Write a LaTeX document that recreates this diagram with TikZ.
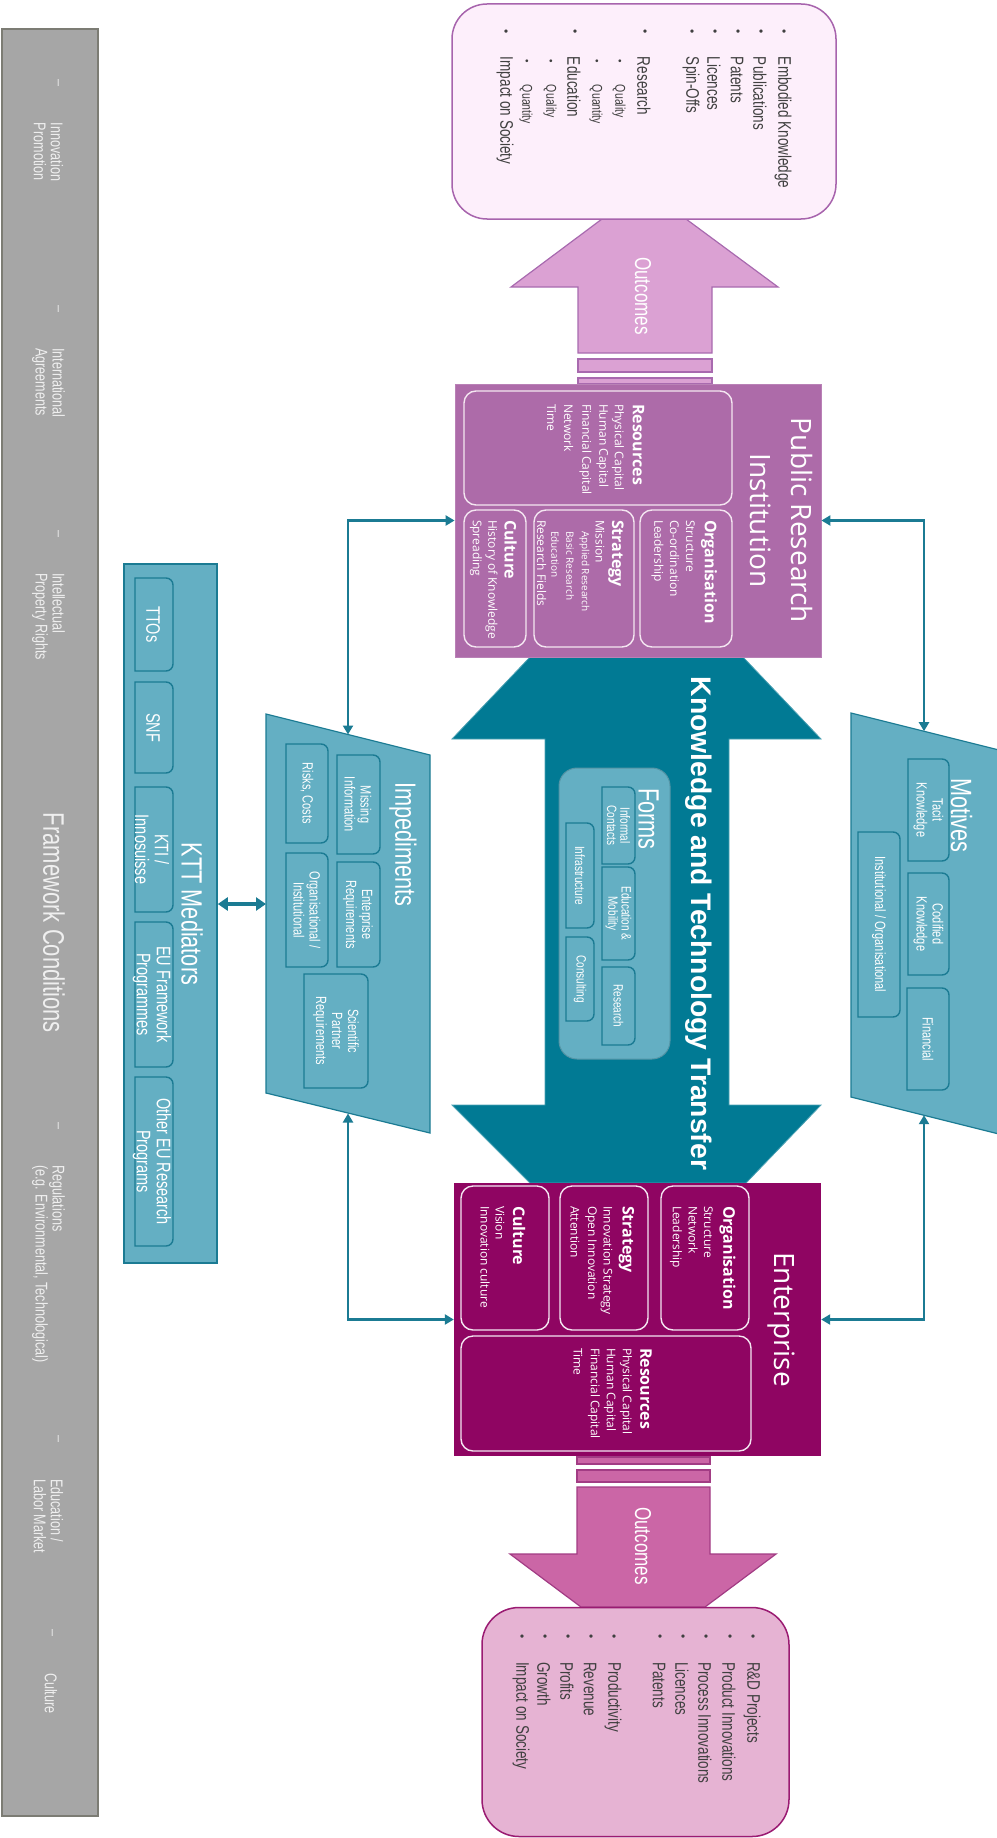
\documentclass[tikz,border=0pt]{standalone}
\usepackage{fontspec}
\setmainfont{Liberation Sans}
\newfontfamily\osans{Open Sans}
\usetikzlibrary{arrows.meta}
\definecolor{fcgray}{HTML}{A6A6A6}
\definecolor{fcline}{HTML}{7C7C74}
\definecolor{fctext}{HTML}{EFEFEF}
\definecolor{tpanel}{HTML}{64AFC3}
\definecolor{tline}{HTML}{1B7B93}
\definecolor{tarrow}{HTML}{017A94}
\definecolor{prifill}{HTML}{AD6BA9}
\definecolor{entfill}{HTML}{8F0562}
\definecolor{otfill}{HTML}{FDEFFB}
\definecolor{otline}{HTML}{A764AD}
\definecolor{atfill}{HTML}{DBA1D3}
\definecolor{atline}{HTML}{A86AAF}
\definecolor{abfill}{HTML}{CB66A6}
\definecolor{abline}{HTML}{A23C84}
\definecolor{obfill}{HTML}{E6B3D3}
\definecolor{obline}{HTML}{9A1B72}
\definecolor{listtxt}{HTML}{404040}
\definecolor{subline}{HTML}{F4E6F1}
\newcommand\rrbox[4]{\draw[subbox] (#1,#2) -- ({#3-7},#2) arc[start angle=-90,end angle=0,radius=7] -- (#3,{#4-7}) arc[start angle=0,end angle=90,radius=7] -- (#1,#4) -- cycle;}
\begin{document}
\begin{tikzpicture}[x=1pt,y=-1pt,
  rt/.style={rotate=-90,inner sep=0pt,outer sep=0pt},
  sa/.style={yscale=1.35},
  lst/.style={rt,sa,anchor=west,text=listtxt,font=\fontsize{13.5}{16}\selectfont},
  lsub/.style={rt,sa,anchor=west,text=listtxt,font=\fontsize{10.5}{12}\selectfont},
  bul/.style={rt,text=listtxt,font=\fontsize{12}{13}\selectfont},
  fcs/.style={rt,sa,anchor=west,align=left,text=fctext,font=\fontsize{12.6}{12.6}\selectfont},
  fdash/.style={rt,text=fctext,font=\fontsize{12.6}{14.8}\selectfont},
  ptitle/.style={rt,sa,anchor=west,text=white,font=\fontsize{21.7}{26}\selectfont},
  ksub/.style={rt,sa,align=center,text=white,font=\fontsize{14.5}{14.8}\selectfont},
  psub/.style={rt,sa,align=center,text=white,font=\fontsize{11}{11.9}\selectfont},
  fsub/.style={rt,sa,align=center,text=white,font=\fontsize{10}{9.8}\selectfont},
  ohead/.style={rt,anchor=west,text=white,font=\osans\bfseries\fontsize{16}{19}\selectfont},
  obody/.style={rt,anchor=west,text=white,font=\osans\fontsize{12}{14}\selectfont},
  osmall/.style={rt,anchor=west,text=white,font=\osans\fontsize{10}{12}\selectfont},
  otitle/.style={rt,text=white,font=\osans\fontsize{28}{34}\selectfont},
  outlbl/.style={rt,sa,text=white,font=\fontsize{17}{20}\selectfont},
  subbox/.style={draw=tline,line width=1.4pt},
  wbox/.style={draw=subline,line width=1.4pt,rounded corners=12pt},
  conn/.style={draw=tline,line width=2.4pt,{Triangle[length=9pt,width=10pt]}-{Triangle[length=9pt,width=10pt]}},
]
\useasboundingbox (0,0) rectangle (996,1838);

% ---------- Framework conditions bar
\node[draw=fcline,fill=fcgray,line width=1.8pt,minimum width=96pt,minimum height=1787pt,inner sep=0pt] (fc) at (50,922.5) {};
\foreach \i/\x/\y in {1/57/83,2/57/309,3/57/534,5/57/1126,6/57/1439,7/51/1633}
  \node[fdash] (fd\i) at (\x,\y) {–};
\node[fcs] (fc1) at (48.5,123) {Innovation\\Promotion};
\node[fcs] (fc2) at (48.5,348) {International\\Agreements};
\node[fcs] (fc3) at (48.5,573) {Intellectual\\Property Rights};
\node[rt,sa,text=fctext,font=\fontsize{22}{26}\selectfont] (fc4) at (54,923) {Framework Conditions};
\node[fcs] (fc5) at (48.5,1165) {Regulations\\(e.g. Environmental, Technological)};
\node[fcs] (fc6) at (48.5,1479) {Education /\\Labor Market};
\node[fcs] (fc7) at (51,1673) {Culture};

% ---------- KTT mediators
\node[draw=tline,fill=tpanel,line width=1.6pt,minimum width=93pt,minimum height=699pt,inner sep=0pt] (ktt) at (170.5,913.5) {};
\rrbox{135}{578}{173}{671}
\rrbox{135}{682}{173}{773}
\rrbox{135}{787}{173}{912}
\rrbox{135}{922}{173}{1067}
\rrbox{135}{1077}{173}{1246}
\node[ksub] (k1) at (153,624.5) {TTOs};
\node[ksub] (k2) at (153,727.5) {SNF};
\node[ksub] (k3) at (152,849.5) {KTI /\\Innosuisse};
\node[ksub] (k4) at (152,994.5) {EU Framework\\Programmes};
\node[ksub] (k5) at (152,1161.5) {Other EU Research\\Programs};
\node[rt,sa,text=white,font=\fontsize{21.7}{26}\selectfont] (kt) at (192,914) {KTT Mediators};

% ---------- Impediments
\coordinate (imp1) at (266,714);
\coordinate (imp2) at (430,755);
\coordinate (imp3) at (430,1133);
\coordinate (imp4) at (266,1093);
\draw[draw=tline,fill=tpanel,line width=1.2pt] (imp1) -- (imp2) -- (imp3) -- (imp4) -- cycle;
\rrbox{337}{755}{380}{854}
\rrbox{286}{744}{328}{843}
\rrbox{337}{862}{380}{967}
\rrbox{286}{853}{328}{967}
\rrbox{304}{974}{368}{1088}
\node[psub] (i1) at (358,804.5) {Missing\\Information};
\node[psub] (i2) at (307,793.5) {Risks, Costs};
\node[psub] (i3) at (358,914.5) {Enterprise\\Requirements};
\node[psub] (i4) at (307,910) {Organisational /\\Institutional};
\node[psub] (i5) at (336,1031) {Scientific\\Partner\\Requirements};
\node[ptitle] (it) at (403,782) {Impediments};

% ---------- Motives
\coordinate (mot1) at (851,713);
\coordinate (mot2) at (1015,754);
\coordinate (mot3) at (1015,1138);
\coordinate (mot4) at (851,1097);
\draw[draw=tline,fill=tpanel,line width=1.2pt] (mot1) -- (mot2) -- (mot3) -- (mot4) -- cycle;
\rrbox{908}{759}{949}{861}
\rrbox{908}{873}{949}{975}
\rrbox{907}{988}{949}{1090}
\rrbox{858}{832}{900}{1017}
\node[psub] (m1) at (928.5,810) {Tacit\\Knowledge};
\node[psub] (m2) at (928.5,924) {Codified\\Knowledge};
\node[psub] (m3) at (928,1039) {Financial};
\node[psub] (m4) at (879,924.5) {Institutional / Organisational};
\node[ptitle] (mt) at (961.5,778) {Motives};

% ---------- Knowledge and technology transfer arrow
\draw[fill=tarrow,draw=tarrow!70!white,line width=0.8pt] (530,657) -- (452,739) -- (545,739) -- (545,1105) -- (452,1105) -- (530,1183) -- (746,1183) -- (821,1105) -- (729,1105) -- (729,739) -- (821,739) -- (743,657) -- cycle;
\draw[fill=tpanel,draw=tpanel!85!black,line width=1pt,rounded corners=18pt] (559,768) rectangle (670,1059);
\rrbox{602}{787}{635}{864}
\rrbox{602}{867}{635}{960}
\rrbox{602}{967}{635}{1045}
\rrbox{566}{823}{594}{928}
\rrbox{566}{937}{594}{1021}
\node[fsub] (f1) at (618.5,825.5) {Informal\\Contacts};
\node[fsub] (f2) at (618.5,913.5) {Education \&\\Mobility};
\node[fsub] (f3) at (618.5,1006) {Research};
\node[fsub] (f4) at (580,875.5) {Infrastructure};
\node[fsub] (f5) at (580,979) {Consulting};
\node[ptitle] (ft) at (648.5,788) {Forms};
\node[rt,text=white,font=\bfseries\fontsize{28.3}{34}\selectfont] (ktitle) at (699,923.5) {Knowledge and Technology Transfer};

% ---------- Outcome arrows
\draw[fill=atfill,draw=atline,line width=1.2pt] (578,353) -- (578,287) -- (511,287) -- (602,219) -- (686,219) -- (778,287) -- (712,287) -- (712,353) -- cycle;
\draw[fill=atfill,draw=atline,line width=1.2pt] (578,359) rectangle (712,372);
\draw[fill=atfill,draw=atline,line width=1.2pt] (578,378) rectangle (712,384);
\node[outlbl] (o1) at (643,296) {Outcomes};
\draw[fill=abfill,draw=abline,line width=1.2pt] (577,1457) rectangle (710,1464);
\draw[fill=abfill,draw=abline,line width=1.2pt] (577,1470) rectangle (710,1482);
\draw[fill=abfill,draw=abline,line width=1.2pt] (577,1487) -- (710,1487) -- (710,1554) -- (776,1554) -- (705,1607) -- (581,1607) -- (510,1554) -- (577,1554) -- cycle;
\node[outlbl] (o2) at (643,1546) {Outcomes};

% ---------- Outcome boxes
\node[draw=otline,fill=otfill,line width=1.5pt,rounded corners=35pt,minimum width=384pt,minimum height=215pt,inner sep=0pt] (outpri) at (644,111.5) {};
\foreach \i/\x/\t in {1/783/Embodied Knowledge,2/760/Publications,3/737/Patents,4/714/Licences,5/691/Spin-Offs,6/644/Research,7/574/Education,8/505/Impact on Society}{
  \node[bul] (tb\i) at (\x,32) {•};
  \node[lst] (tt\i) at (\x,57) {\t};
}
\foreach \i/\x/\t in {1/619/Quality,2/596/Quantity,3/550/Quality,4/526/Quantity}{
  \node[bul,font=\fontsize{10}{11}\selectfont] (sb\i) at (\x,61) {•};
  \node[lsub] (st\i) at (\x,85) {\t};
}
\node[draw=obline,fill=obfill,line width=1.5pt,rounded corners=37pt,minimum width=307pt,minimum height=229pt,inner sep=0pt] (outent) at (635.5,1722) {};
\foreach \i/\x/\t in {1/752/R\&D Projects,2/729/Product Innovations,3/705/Process Innovations,4/682/Licences,5/659/Patents,6/613/Productivity,7/590/Revenue,8/567/Profits,9/544/Growth,10/521/Impact on Society}{
  \node[bul] (bb\i) at (\x,1637) {•};
  \node[lst] (bt\i) at (\x,1662) {\t};
}

% ---------- Public research institution
\node[fill=prifill,draw=prifill!85!white,line width=0.8pt,minimum width=366pt,minimum height=273pt,inner sep=0pt] (pri) at (638,520.5) {};
\draw[wbox] (464,391) rectangle (732,505);
\draw[wbox] (640,510) rectangle (732,647);
\draw[wbox] (534,510) rectangle (634,647);
\draw[wbox] (464,510) rectangle (526,647);
\node[otitle] (pt1) at (802,520.5) {Public Research};
\node[otitle] (pt2) at (761,520.5) {Institution};
\node[ohead] (pr0) at (638.5,404) {Resources};
\foreach \i/\x/\t in {1/618/Physical Capital,2/602.5/Human Capital,3/585.5/Financial Capital,4/568.5/Network,5/551.5/Time}
  \node[obody] (pr\i) at (\x,404) {\t};
\node[ohead] (po0) at (709,520) {Organisation};
\foreach \i/\x/\t in {1/690.5/Structure,2/674.5/Co-ordination,3/657.5/Leadership}
  \node[obody] (po\i) at (\x,520) {\t};
\node[ohead] (ps0) at (616,520) {Strategy};
\node[obody] (ps1) at (600,520) {Mission};
\node[osmall] (ps2) at (584.5,531) {Applied Research};
\node[osmall] (ps3) at (570,531) {Basic Research};
\node[osmall] (ps4) at (555,531) {Education};
\node[obody] (ps5) at (541.5,520) {Research Fields};
\node[ohead] (pc0) at (510.5,520) {Culture};
\node[obody] (pc1) at (491.5,520) {History of Knowledge};
\node[obody] (pc2) at (476,520) {Spreading};

% ---------- Enterprise
\node[fill=entfill,minimum width=367pt,minimum height=273pt,inner sep=0pt] (ent) at (637.5,1319.5) {};
\draw[wbox] (661,1186) rectangle (749,1330);
\draw[wbox] (560,1186) rectangle (648,1330);
\draw[wbox] (461,1186) rectangle (549,1330);
\draw[wbox] (461,1336) rectangle (751,1451);
\node[otitle] (et) at (781.5,1319.5) {Enterprise};
\node[ohead] (eo0) at (727.5,1206) {Organisation};
\foreach \i/\x/\t in {1/708.5/Structure,2/693/Network,3/676/Leadership}
  \node[obody] (eo\i) at (\x,1206) {\t};
\node[ohead] (es0) at (626.5,1206) {Strategy};
\foreach \i/\x/\t in {1/606.5/Innovation Strategy,2/591/Open Innovation,3/575/Attention}
  \node[obody] (es\i) at (\x,1206) {\t};
\node[ohead] (ec0) at (519,1206) {Culture};
\foreach \i/\x/\t in {1/500/Vision,2/485/Innovation culture}
  \node[obody] (ec\i) at (\x,1206) {\t};
\node[ohead] (er0) at (646,1348) {Resources};
\foreach \i/\x/\t in {1/626/Physical Capital,2/610/Human Capital,3/594/Financial Capital,4/578/Time}
  \node[obody] (er\i) at (\x,1348) {\t};

% ---------- Connectors
\coordinate (impT) at (348,734.5);
\coordinate (impB) at (348,1113.5);
\coordinate (impL) at (266,904);
\coordinate (motT) at (924,731.2);
\coordinate (motB) at (924,1115.2);
\draw[conn] (impT) |- (pri.west);
\draw[conn] (motT) |- (pri.east);
\draw[conn] (impB) |- (ent.west);
\draw[conn] (motB) |- (ent.east);
\draw[draw=tline,line width=3.6pt,{Triangle[length=10pt,width=13pt]}-{Triangle[length=10pt,width=13pt]}] (ktt.east |- impL) -- (impL);
\end{tikzpicture}
\end{document}
